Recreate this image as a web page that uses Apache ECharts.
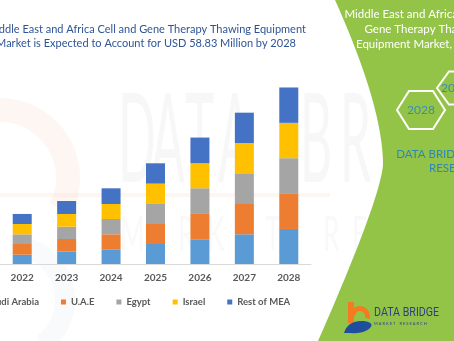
<!DOCTYPE html>
<html>
<head>
<meta charset="utf-8">
<script src="https://cdn.jsdelivr.net/npm/echarts@6/dist/echarts.min.js"></script>
<style>html,body{margin:0;padding:0;background:#fff}#c{width:454px;height:341px}</style>
</head>
<body>
<div id="c"></div>
<script>
const categories = ['2022', '2023', '2024', '2025', '2026', '2027', '2028'];
const saudiArabia = [3.1, 4.1, 4.9, 6.67, 8.24, 9.9, 11.68];
const uae = [3.56, 4.23, 5.0, 6.67, 8.45, 10.1, 11.68];
const egypt = [3.23, 4.1, 5.1, 6.67, 8.56, 10.24, 11.9];
const israel = [3.45, 4.23, 5.0, 6.78, 8.34, 10.1, 11.79];
const restOfMEA = [3.34, 4.34, 5.23, 6.78, 8.56, 10.1, 11.79];
const seriesNames = ['Saudi Arabia', 'U.A.E', 'Egypt', 'Israel', 'Rest of MEA'];
const seriesColors = ['#5B9BD5', '#ED7D31', '#A5A5A5', '#FFC000', '#4472C4'];
const seriesData = [saudiArabia, uae, egypt, israel, restOfMEA];

const chart = echarts.init(document.getElementById('c'), null, {renderer: 'canvas'});
const font = 'Lato, "Open Sans", sans-serif';
const thin = '"DejaVu Sans ExtraLight", Lato, sans-serif';

function quad(p0, c, p1, n) {
  const pts = [];
  for (let i = 0; i <= n; i++) {
    const t = i / n, u = 1 - t;
    pts.push([u * u * p0[0] + 2 * u * t * c[0] + t * t * p1[0], u * u * p0[1] + 2 * u * t * c[1] + t * t * p1[1]]);
  }
  return pts;
}
const panelPts = quad([335, 0], [383, 107], [383, 165], 24)
  .concat(quad([383, 165], [380, 200], [318, 341], 24).slice(1))
  .concat([[454, 341], [454, 0]]);
const swooshPts = quad([344, 333], [348, 320], [364, 321], 10)
  .concat(quad([364, 321], [376, 323], [369, 329], 6).slice(1))
  .concat(quad([369, 329], [362, 334], [350, 333], 6).slice(1));

const wmBig = [['D', 118], ['A', 151], ['T', 185], ['A', 218], ['B', 300], ['R', 340], ['I', 380]].map(([ch, x]) => ({
  type: 'text', z: -10, silent: true, x: x, y: 80, scaleX: 0.4,
  style: {text: ch, fontFamily: thin, fontSize: 124, fill: 'rgba(185,185,185,0.11)'}
}));
const wmSmall = 'MARKET RESEARCH'.split('').map((ch, i) => ch === ' ' ? null : ({
  type: 'text', z: -10, silent: true, x: 120 + 29 * i, y: 212, scaleX: 0.55,
  style: {text: ch, fontFamily: thin, fontSize: 48, fill: 'rgba(185,185,185,0.09)'}
})).filter(Boolean);

const option = {
  animation: false,
  backgroundColor: '#ffffff',
  title: {
    text: 'Middle East and Africa Cell and Gene Therapy Thawing Equipment\nMarket is Expected to Account for USD 58.83 Million by 2028',
    left: 141, top: 17, textAlign: 'center',
    textStyle: {fontFamily: font, fontSize: 11, fontWeight: 'normal', color: '#2F5496', lineHeight: 14}
  },
  legend: {
    data: seriesNames,
    left: -29, top: 292,
    icon: 'rect', itemWidth: 5, itemHeight: 5, itemGap: 22,
    textStyle: {fontFamily: font, fontSize: 9.5, fontWeight: 'bold', color: '#595959'}
  },
  grid: {left: -6, width: 317, top: 84, height: 180, containLabel: false},
  xAxis: {
    type: 'category', data: categories,
    axisLine: {show: true, lineStyle: {color: '#D9D9D9', width: 1}},
    axisTick: {show: false},
    axisLabel: {fontFamily: font, fontSize: 10, fontWeight: 'bold', color: '#595959', margin: 9}
  },
  yAxis: {type: 'value', min: 0, max: 60, show: false, splitLine: {show: false}},
  series: seriesNames.map((n, i) => ({
    name: n, type: 'bar', stack: 'total', barWidth: 19,
    itemStyle: {color: seriesColors[i]},
    data: seriesData[i]
  })),
  graphic: [
    {type: 'arc', z: -10, silent: true, shape: {cx: 0, cy: 178, r: 68, startAngle: -Math.PI / 2, endAngle: Math.PI * 0.15},
     style: {fill: 'none', stroke: 'rgba(245,160,110,0.09)', lineWidth: 24}},
    {type: 'arc', z: -10, silent: true, shape: {cx: 10, cy: 300, r: 55, startAngle: -Math.PI / 2, endAngle: Math.PI * 0.3},
     style: {fill: 'none', stroke: 'rgba(120,150,200,0.05)', lineWidth: 20}},
    {type: 'line', z: -10, silent: true, shape: {x1: 0, y1: 195, x2: 330, y2: 195},
     style: {stroke: 'rgba(245,170,130,0.10)', lineWidth: 4}},
    ...wmBig,
    ...wmSmall,
    {type: 'polygon', z: 100, silent: true, shape: {points: panelPts}, style: {fill: '#94C447'}},
    {type: 'text', z: 101, silent: true, x: 423, y: 7,
     style: {text: 'Middle East and Africa Cell and\nGene Therapy Thawing', align: 'center', fontFamily: font, fontSize: 11.5, lineHeight: 15, fill: '#ffffff'}},
    {type: 'text', z: 101, silent: true, x: 356, y: 37,
     style: {text: 'Equipment Market, 2021-2028', align: 'left', fontFamily: font, fontSize: 11.5, lineHeight: 15, fill: '#ffffff'}},
    {type: 'polygon', z: 101, silent: true,
     shape: {points: [[437, 88], [449, 71.5], [471, 71.5], [483, 88], [471, 104.5], [449, 104.5]]},
     style: {fill: 'none', stroke: '#ffffff', lineWidth: 2}},
    {type: 'text', z: 102, silent: true, x: 455, y: 88,
     style: {text: '2021', align: 'center', verticalAlign: 'middle', fontFamily: font, fontSize: 12, fill: '#3A8DB5'}},
    {type: 'polygon', z: 103, silent: true,
     shape: {points: [[397, 110], [409, 91], [433, 91], [445, 110], [433, 129], [409, 129]]},
     style: {fill: '#94C447', stroke: '#ffffff', lineWidth: 2}},
    {type: 'text', z: 104, silent: true, x: 421, y: 110,
     style: {text: '2028', align: 'center', verticalAlign: 'middle', fontFamily: font, fontSize: 12, fill: '#3A8DB5'}},
    {type: 'text', z: 101, silent: true, x: 458, y: 147,
     style: {text: 'DATA BRIDGE MARKET\nRESEARCH', align: 'center', fontFamily: font, fontSize: 11.5, lineHeight: 14, fill: '#2F88B0'}},
    {type: 'rect', z: 101, silent: true, shape: {x: 348, y: 302, width: 6, height: 21}, style: {fill: '#F47B20'}},
    {type: 'arc', z: 101, silent: true, shape: {cx: 360, cy: 316, r: 7.5, startAngle: -Math.PI, endAngle: Math.PI * 0.1},
     style: {fill: 'none', stroke: '#F47B20', lineWidth: 5}},
    {type: 'polygon', z: 102, silent: true, shape: {points: swooshPts}, style: {fill: '#1F4E9C'}},
    {type: 'text', z: 101, silent: true, x: 374, y: 306, scaleX: 0.82,
     style: {text: 'DATA BRIDGE', fontFamily: '"Liberation Sans Narrow", Roboto, sans-serif', fontSize: 13, fill: '#2B3F8F'}},
    {type: 'text', z: 101, silent: true, x: 374, y: 322,
     style: {text: 'M A R K E T    R E S E A R C H', fontFamily: font, fontSize: 4, fill: '#2B3F8F'}}
  ]
};
chart.setOption(option);
</script>
</body>
</html>
